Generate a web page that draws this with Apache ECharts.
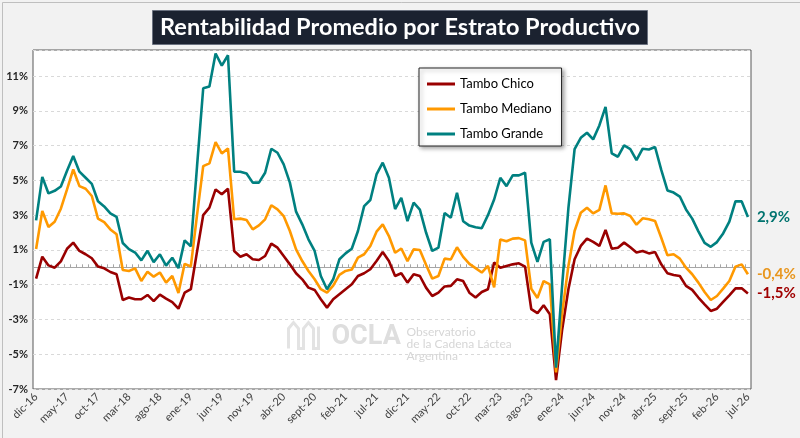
<!DOCTYPE html>
<html>
<head>
<meta charset="utf-8">
<script src="https://cdn.jsdelivr.net/npm/echarts@6/dist/echarts.min.js"></script>
<style>
	html, body { margin: 0; padding: 0; background: #f2f2f2; }
	#chart { width: 800px; height: 438px; }
</style>
</head>
<body>
<div id="chart"></div>
<script>
// meses (dic-16 .. jul-26)
var meses = ['ene', 'feb', 'mar', 'abr', 'may', 'jun', 'jul', 'ago', 'sept', 'oct', 'nov', 'dic'];
var categorias = [];
for (var k = 0; k < 116; k++) {
	categorias.push(meses[(11 + k) % 12] + '-' + (16 + Math.floor((11 + k) / 12)));
}

var tamboChico = [
	-0.65, 0.61, 0.11, -0.02, 0.34, 1.07, 1.42, 0.94, 0.75, 0.52,
	0.04, -0.06, -0.27, -0.4, -1.88, -1.74, -1.84, -1.84, -1.59, -1.95,
	-1.57, -1.8, -2.0, -2.38, -1.46, -1.26, 0.9, 3.0, 3.43, 4.48,
	4.2, 4.52, 0.94, 0.61, 0.75, 0.46, 0.42, 0.65, 1.36, 1.13,
	0.65, 0.17, -0.34, -0.69, -1.17, -1.3, -1.84, -2.32, -1.84, -1.55,
	-1.26, -0.98, -0.5, -0.34, -0.11, 0.36, 0.88, 0.36, -0.5, -0.34,
	-0.88, -0.4, -0.5, -1.17, -1.65, -1.46, -1.1, -1.07, -0.69, -0.79,
	-1.46, -1.74, -1.42, -1.26, 0.27, -0.02, 0.08, 0.17, 0.23, 0.04,
	-2.41, -2.64, -2.18, -2.7, -6.49, -3.56, -1.26, 0.46, 1.23, 1.65,
	1.46, 1.23, 2.15, 1.07, 1.13, 1.42, 1.15, 0.85, 0.94, 0.8,
	0.88, 0.17, -0.34, -0.44, -0.5, -1.07, -1.3, -1.74, -2.13, -2.51,
	-2.38, -1.99, -1.61, -1.21, -1.21, -1.5
];
var tamboMediano = [
	1.05, 3.24, 2.32, 2.62, 3.37, 4.48, 5.63, 4.67, 4.52, 4.1,
	2.8, 2.6, 2.18, 1.9, -0.15, -0.21, -0.06, -0.79, -0.25, -0.54,
	-0.3, -0.88, -0.5, -1.48, 0.2, 0.05, 3.0, 5.82, 5.98, 7.2,
	6.55, 6.84, 2.76, 2.8, 2.72, 2.18, 2.41, 2.76, 3.57, 3.33,
	2.95, 2.09, 1.03, 0.36, -0.21, -0.69, -1.26, -1.46, -1.05, -0.43,
	-0.21, -0.13, 0.56, 0.75, 1.23, 2.05, 2.47, 1.8, 0.84, 1.08,
	0.36, 1.03, 1.0, 0.15, -0.65, -0.5, 0.5, 0.45, 1.15, 0.6,
	0.2, -0.05, -0.3, 0.08, -1.15, 1.6, 1.5, 1.65, 1.68, 1.55,
	-1.23, -1.76, -0.79, -0.98, -6.05, -2.6, 0.08, 2.09, 3.14, 3.43,
	3.1, 3.3, 4.71, 3.1, 3.08, 3.1, 2.95, 2.45, 2.82, 2.76,
	2.66, 1.7, 0.69, 0.75, 0.5, -0.02, -0.4, -0.88, -1.42, -1.88,
	-1.65, -1.23, -0.79, 0.04, 0.17, -0.4
];
var tamboGrande = [
	2.7, 5.2, 4.25, 4.4, 4.65, 5.55, 6.4, 5.5, 5.15, 4.8,
	3.8, 3.5, 3.1, 2.9, 1.4, 1.05, 0.85, 0.4, 0.95, 0.3,
	0.75, 0.1, 0.55, -0.05, 1.55, 1.2, 5.8, 10.3, 10.4, 12.3,
	11.6, 12.2, 5.5, 5.5, 5.4, 4.87, 4.87, 5.44, 6.82, 6.59,
	5.92, 4.87, 3.2, 2.47, 1.61, 0.94, -0.5, -1.26, -0.69, 0.46,
	0.8, 1.07, 2.09, 3.52, 3.87, 5.34, 6.02, 5.15, 3.35, 4.0,
	2.66, 3.72, 3.32, 2.0, 0.94, 1.13, 3.12, 2.85, 4.29, 2.65,
	2.4, 2.3, 2.25, 3.0, 3.9, 5.15, 4.67, 5.29, 5.29, 5.44,
	1.42, 0.31, 1.46, 1.61, -5.77, -1.0, 3.4, 6.8, 7.45, 7.74,
	7.36, 8.16, 9.23, 6.55, 6.36, 7.01, 6.8, 6.17, 6.82, 6.78,
	6.92, 5.6, 4.42, 4.3, 4.07, 3.33, 2.8, 2.07, 1.4, 1.18,
	1.45, 1.95, 2.63, 3.8, 3.79, 2.9
];

var fuente = 'Lato';

function etiquetaFinal(p) {
	return p.value.toFixed(1).replace('.', ',') + '%';
}

function serie(nombre, datos, color, colorEtiqueta) {
	return {
		name: nombre,
		type: 'line',
		data: datos,
		symbol: 'none',
		xAxisIndex: 0,
		lineStyle: { color: color, width: 2.6 },
		itemStyle: { color: color },
		endLabel: {
			show: true,
			formatter: etiquetaFinal,
			distance: 9,
			fontFamily: fuente,
			fontSize: 15,
			fontWeight: 'bold',
			color: colorEtiqueta
		},
		z: 3
	};
}

var myChart = echarts.init(document.getElementById('chart'));
var option = {
	backgroundColor: '#f2f2f2',
	animation: false,
	textStyle: { fontFamily: fuente },
	title: {
		text: 'Rentabilidad Promedio por Estrato Productivo',
		left: 'center',
		top: 10,
		padding: [4, 8, 4, 8],
		backgroundColor: '#1b2230',
		borderColor: '#6b7280',
		borderWidth: 1,
		textStyle: {
			color: '#ffffff',
			fontFamily: fuente,
			fontSize: 23.5,
			fontWeight: 'bold',
			lineHeight: 27
		}
	},
	legend: {
		orient: 'vertical',
		left: 419,
		top: 68,
		padding: [8, 10, 4, 8],
		icon: 'rect',
		itemWidth: 28,
		itemHeight: 3,
		itemGap: 9,
		backgroundColor: '#ffffff',
		borderColor: '#262626',
		borderWidth: 1,
		shadowColor: 'rgba(0,0,0,0.35)',
		shadowBlur: 4,
		shadowOffsetX: 2,
		shadowOffsetY: 2,
		textStyle: { fontFamily: fuente, fontSize: 13, color: '#000000', lineHeight: 16 },
		data: ['Tambo Chico', 'Tambo Mediano', 'Tambo Grande']
	},
	grid: {
		left: 33,
		right: 49,
		top: 50,
		bottom: 49,
		show: true,
		backgroundColor: '#ffffff',
		borderColor: '#595959',
		borderWidth: 1
	},
	graphic: [
		{
			type: 'rect',
			left: 0, top: 0,
			shape: { width: 799, height: 437 },
			style: { fill: 'none', stroke: '#bfbfbf', lineWidth: 1 },
			silent: true
		},
		{
			type: 'group',
			left: 286, top: 320,
			silent: true,
			z: 1,
			children: [
				{
					type: 'polyline',
					shape: { points: [[2, 28], [2, 8], [7, 2], [12, 8], [12, 28], [17, 28], [17, 8], [22, 2], [27, 8], [27, 28], [32, 28], [32, 6]] },
					style: { stroke: '#e3e3e3', lineWidth: 3, fill: 'none' }
				},
				{
					type: 'text',
					left: 45, top: 3,
					style: { text: 'OCLA', fill: '#dedede', font: 'bold 27px Roboto' }
				},
				{
					type: 'text',
					left: 120, top: 6,
					style: {
						text: 'Observatorio\nde la Cadena Láctea\nArgentina',
						fill: '#d6d6d6',
						font: '12px Lato',
						lineHeight: 12
					}
				}
			]
		}
	],
	xAxis: [
		{
			type: 'category',
			data: categorias,
			boundaryGap: true,
			axisLine: { show: false, onZero: false },
			axisTick: { show: false },
			splitLine: { show: false },
			axisLabel: {
				interval: 4,
				rotate: 45,
				margin: 6,
				fontFamily: fuente,
				fontSize: 11,
				color: '#404040'
			}
		},
		{
			type: 'category',
			data: categorias,
			position: 'bottom',
			boundaryGap: true,
			axisLine: { show: true, onZero: true, lineStyle: { color: '#a6a6a6', width: 1.2 } },
			axisTick: { show: true, inside: true, length: 3, interval: 0, lineStyle: { color: '#a6a6a6' } },
			axisLabel: { show: false },
			splitLine: { show: false }
		}
	],
	yAxis: {
		type: 'value',
		min: -7,
		max: 12.5,
		interval: 2,
		axisLine: { show: false },
		axisTick: { show: false },
		splitLine: { show: true, lineStyle: { color: '#d9d9d9', type: [3, 3] } },
		axisLabel: {
			formatter: '{value}%',
			showMaxLabel: false,
			margin: 5,
			fontFamily: fuente,
			fontSize: 11,
			fontWeight: 'bold',
			color: '#262626'
		}
	},
	series: [
		serie('Tambo Chico', tamboChico, '#990000', '#a00000'),
		serie('Tambo Mediano', tamboMediano, '#ff9900', '#e8961e'),
		serie('Tambo Grande', tamboGrande, '#008080', '#00736f')
	]
};
myChart.setOption(option);
</script>
</body>
</html>
